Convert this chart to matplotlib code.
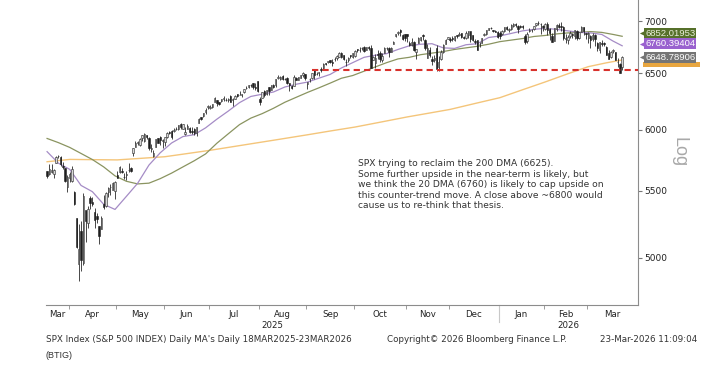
import numpy as np
import pandas as pd
import matplotlib
matplotlib.use("Agg")
import matplotlib.pyplot as plt
from matplotlib.patches import Rectangle
from matplotlib.ticker import FixedLocator, NullLocator, FuncFormatter

# daily candles, SPX, open / high / low / close
mar25 = [[5654, 5654, 5597, 5615], [5632, 5715, 5622, 5675], [5646, 5711, 5641, 5663], [5630, 5670, 5603, 5667],
         [5718, 5775, 5718, 5767], [5775, 5786, 5763, 5777], [5772, 5777, 5694, 5712], [5695, 5732, 5671, 5693],
         [5679, 5685, 5572, 5581], [5527, 5623, 5489, 5612]]
apr25 = [[5597, 5651, 5571, 5633], [5580, 5695, 5571, 5671], [5492, 5500, 5390, 5397], [5292, 5293, 5069, 5074],
         [4953, 5247, 4835, 5062], [5193, 5267, 4910, 4982], [4966, 5481, 4950, 5457], [5353, 5353, 5115, 5268],
         [5256, 5381, 5220, 5363], [5441, 5460, 5358, 5406], [5412, 5450, 5386, 5396], [5335, 5367, 5220, 5276],
         [5305, 5328, 5255, 5283], [5232, 5232, 5101, 5158], [5207, 5309, 5207, 5288], [5395, 5469, 5356, 5376],
         [5381, 5489, 5371, 5485], [5489, 5528, 5455, 5525], [5529, 5554, 5468, 5529], [5508, 5571, 5505, 5561],
         [5499, 5581, 5433, 5569]]
may25 = [[5625, 5659, 5597, 5604], [5645, 5700, 5637, 5687], [5655, 5683, 5644, 5650], [5609, 5641, 5589, 5607],
         [5626, 5655, 5584, 5631], [5663, 5720, 5650, 5664], [5679, 5691, 5646, 5660], [5807, 5845, 5776, 5844],
         [5854, 5906, 5853, 5886], [5887, 5906, 5869, 5892], [5869, 5925, 5859, 5917], [5929, 5958, 5907, 5958],
         [5903, 5968, 5895, 5964], [5955, 5956, 5917, 5941], [5928, 5939, 5830, 5845], [5840, 5878, 5811, 5842],
         [5781, 5829, 5767, 5802], [5855, 5922, 5854, 5922], [5925, 5929, 5886, 5889], [5939, 5944, 5872, 5912],
         [5903, 5922, 5844, 5912]]
jun25 = [[5897, 5937, 5862, 5936], [5939, 5981, 5930, 5970], [5978, 5990, 5966, 5971], [5985, 5999, 5921, 5939],
         [5987, 6017, 5978, 6000], [6005, 6022, 5994, 6006], [6009, 6043, 6001, 6038], [6049, 6059, 6003, 6022],
         [6009, 6045, 6003, 6045], [5962, 6026, 5952, 5977], [6005, 6051, 6005, 6033], [6012, 6023, 5974, 5983],
         [5986, 6019, 5966, 5981], [6004, 6018, 5952, 5967], [5970, 6026, 5943, 6025], [6061, 6101, 6059, 6092],
         [6105, 6108, 6079, 6092], [6114, 6146, 6106, 6141], [6151, 6187, 6133, 6173], [6193, 6215, 6177, 6205]]
jul25 = [[6187, 6210, 6178, 6198], [6192, 6227, 6188, 6227], [6244, 6284, 6241, 6279], [6260, 6262, 6202, 6230],
         [6239, 6242, 6216, 6226], [6245, 6269, 6237, 6263], [6270, 6290, 6249, 6280], [6256, 6275, 6245, 6260],
         [6255, 6272, 6237, 6269], [6296, 6302, 6242, 6244], [6256, 6275, 6202, 6264], [6264, 6304, 6264, 6297],
         [6308, 6315, 6286, 6297], [6305, 6336, 6303, 6306], [6306, 6310, 6281, 6309], [6326, 6360, 6317, 6359],
         [6368, 6381, 6360, 6363], [6371, 6390, 6364, 6389], [6397, 6401, 6375, 6390], [6409, 6410, 6360, 6371],
         [6379, 6410, 6347, 6362], [6427, 6428, 6331, 6339]]
aug25 = [[6271, 6288, 6213, 6238], [6272, 6330, 6272, 6330], [6336, 6344, 6289, 6299], [6311, 6352, 6304, 6345],
         [6374, 6379, 6301, 6340], [6352, 6395, 6350, 6389], [6390, 6401, 6364, 6374], [6391, 6446, 6377, 6446],
         [6460, 6481, 6448, 6466], [6446, 6474, 6442, 6469], [6479, 6481, 6441, 6450], [6446, 6459, 6436, 6449],
         [6456, 6466, 6404, 6412], [6410, 6414, 6343, 6396], [6386, 6394, 6361, 6370], [6386, 6482, 6381, 6467],
         [6458, 6466, 6438, 6439], [6442, 6469, 6440, 6466], [6458, 6488, 6453, 6481], [6487, 6508, 6466, 6502],
         [6492, 6495, 6440, 6460]]
sep25 = [[6401, 6416, 6361, 6416], [6445, 6453, 6416, 6448], [6456, 6503, 6444, 6502], [6530, 6533, 6444, 6482],
         [6498, 6511, 6484, 6495], [6506, 6514, 6480, 6512], [6537, 6555, 6514, 6532], [6546, 6592, 6545, 6587],
         [6592, 6601, 6578, 6584], [6602, 6616, 6593, 6615], [6624, 6627, 6597, 6607], [6609, 6638, 6565, 6600],
         [6633, 6657, 6613, 6631], [6642, 6672, 6629, 6664], [6657, 6697, 6654, 6693], [6695, 6697, 6643, 6656],
         [6668, 6671, 6623, 6638], [6609, 6633, 6569, 6605], [6620, 6650, 6603, 6644], [6669, 6674, 6640, 6661],
         [6654, 6688, 6644, 6688]]
oct25 = [[6665, 6718, 6656, 6711], [6732, 6733, 6699, 6715], [6722, 6750, 6705, 6716], [6740, 6749, 6721, 6740],
         [6751, 6754, 6699, 6714], [6720, 6753, 6717, 6753], [6752, 6756, 6720, 6735], [6740, 6764, 6550, 6553],
         [6624, 6667, 6624, 6655], [6597, 6684, 6553, 6644], [6681, 6724, 6631, 6671], [6692, 6712, 6610, 6630],
         [6620, 6687, 6602, 6664], [6694, 6744, 6688, 6735], [6737, 6749, 6716, 6736], [6741, 6752, 6653, 6699],
         [6703, 6747, 6700, 6739], [6780, 6807, 6780, 6792], [6850, 6878, 6846, 6875], [6885, 6899, 6867, 6891],
         [6910, 6920, 6855, 6890], [6865, 6870, 6815, 6822], [6870, 6871, 6807, 6840]]
nov25 = [[6875, 6877, 6800, 6852], [6789, 6807, 6762, 6771], [6765, 6832, 6755, 6796], [6801, 6803, 6711, 6720],
         [6700, 6730, 6631, 6728], [6790, 6841, 6785, 6832], [6816, 6849, 6810, 6846], [6866, 6870, 6813, 6851],
         [6819, 6828, 6720, 6737], [6646, 6775, 6646, 6734], [6724, 6749, 6657, 6672], [6637, 6660, 6581, 6617],
         [6627, 6676, 6606, 6642], [6741, 6771, 6522, 6538], [6555, 6664, 6521, 6603], [6634, 6716, 6627, 6705],
         [6703, 6777, 6687, 6766], [6781, 6822, 6781, 6813], [6822, 6849, 6822, 6849]]
dec25 = [[6830, 6843, 6800, 6813], [6830, 6852, 6810, 6829], [6815, 6855, 6808, 6850], [6866, 6867, 6835, 6857],
         [6866, 6895, 6858, 6870], [6880, 6886, 6835, 6846], [6842, 6856, 6830, 6840], [6840, 6900, 6830, 6887],
         [6860, 6905, 6835, 6901], [6900, 6905, 6800, 6827], [6860, 6865, 6805, 6816], [6810, 6830, 6775, 6800],
         [6815, 6820, 6720, 6721], [6775, 6800, 6745, 6775], [6790, 6840, 6785, 6834], [6860, 6880, 6850, 6878],
         [6870, 6912, 6865, 6910], [6912, 6937, 6910, 6932], [6935, 6945, 6925, 6930], [6910, 6915, 6890, 6905],
         [6900, 6910, 6890, 6896], [6895, 6900, 6840, 6845]]
jan26 = [[6880, 6900, 6830, 6858], [6870, 6910, 6860, 6902], [6905, 6945, 6895, 6944], [6940, 6955, 6915, 6921],
         [6915, 6930, 6890, 6921], [6925, 6970, 6918, 6966], [6950, 6985, 6940, 6977], [6975, 6986, 6940, 6963],
         [6955, 6960, 6880, 6926], [6950, 6965, 6930, 6944], [6955, 6965, 6925, 6940], [6850, 6870, 6775, 6797],
         [6805, 6890, 6790, 6875], [6900, 6935, 6890, 6913], [6910, 6925, 6895, 6916], [6920, 6955, 6915, 6950],
         [6960, 6985, 6955, 6979], [6985, 7002, 6960, 6978], [6975, 6980, 6870, 6969], [6950, 6965, 6905, 6939]]
feb26 = [[6920, 6980, 6910, 6976], [6970, 6990, 6860, 6917], [6920, 6930, 6820, 6883], [6850, 6880, 6800, 6798],
         [6810, 6935, 6805, 6932], [6920, 6970, 6905, 6964], [6965, 6985, 6935, 6942], [6950, 6990, 6900, 6941],
         [6940, 6955, 6820, 6833], [6830, 6870, 6790, 6836], [6820, 6860, 6775, 6843], [6850, 6900, 6840, 6881],
         [6870, 6885, 6835, 6861], [6850, 6915, 6830, 6909], [6900, 6910, 6820, 6837], [6840, 6895, 6830, 6890],
         [6895, 6950, 6890, 6946], [6940, 6945, 6860, 6908], [6880, 6885, 6830, 6878]]
mar26 = [[6840, 6890, 6790, 6881], [6850, 6860, 6740, 6816], [6830, 6880, 6810, 6869], [6860, 6870, 6760, 6830],
         [6790, 6800, 6710, 6740], [6720, 6800, 6690, 6795], [6790, 6820, 6760, 6781], [6785, 6800, 6755, 6775],
         [6750, 6760, 6670, 6672], [6690, 6720, 6630, 6632], [6650, 6710, 6640, 6699], [6710, 6730, 6690, 6716],
         [6700, 6705, 6620, 6625], [6610, 6640, 6560, 6606], [6590, 6600, 6500, 6506], [6560, 6660, 6530, 6649]]

# moving averages (weekly samples)
ma_dates = ["2025-03-18", "2025-03-25", "2025-04-01", "2025-04-08", "2025-04-15", "2025-04-23", "2025-04-30",
            "2025-05-07", "2025-05-14", "2025-05-21", "2025-05-29", "2025-06-05", "2025-06-12", "2025-06-20",
            "2025-06-27", "2025-07-07", "2025-07-14", "2025-07-21", "2025-07-28", "2025-08-04", "2025-08-11",
            "2025-08-18", "2025-08-25", "2025-09-02", "2025-09-09", "2025-09-16", "2025-09-23", "2025-09-30",
            "2025-10-07", "2025-10-14", "2025-10-21", "2025-10-28", "2025-11-04", "2025-11-11", "2025-11-18",
            "2025-11-25", "2025-12-03", "2025-12-10", "2025-12-17", "2025-12-24", "2026-01-02", "2026-01-09",
            "2026-01-16", "2026-01-26", "2026-02-02", "2026-02-09", "2026-02-17", "2026-02-24", "2026-03-03",
            "2026-03-10", "2026-03-17", "2026-03-23"]
dma20 = [5815, 5720, 5670, 5542, 5493, 5395, 5356, 5456, 5559, 5705, 5806, 5887, 5941, 5957, 6015, 6090, 6160,
         6235, 6290, 6310, 6330, 6375, 6400, 6420, 6455, 6490, 6550, 6600, 6650, 6670, 6685, 6725, 6760, 6775,
         6780, 6740, 6735, 6770, 6780, 6840, 6855, 6880, 6905, 6920, 6930, 6920, 6905, 6890, 6885, 6870, 6805, 6760]
dma50 = [5925, 5890, 5850, 5800, 5750, 5690, 5618, 5575, 5554, 5560, 5596, 5640, 5690, 5740, 5796, 5885, 5964,
         6043, 6099, 6138, 6185, 6238, 6282, 6326, 6367, 6410, 6455, 6480, 6520, 6560, 6600, 6635, 6650, 6675,
         6690, 6705, 6725, 6740, 6755, 6775, 6800, 6815, 6830, 6850, 6860, 6875, 6885, 6890, 6898, 6890, 6870, 6852]
dma200_dates = ["2025-03-18", "2025-04-01", "2025-04-15", "2025-05-01", "2025-05-14", "2025-06-02", "2025-06-12",
                "2025-07-01", "2025-07-14", "2025-08-01", "2025-08-11", "2025-09-02", "2025-09-16", "2025-10-01",
                "2025-10-17", "2025-11-03", "2025-11-14", "2025-12-01", "2025-12-17", "2026-01-02", "2026-01-16",
                "2026-02-02", "2026-02-17", "2026-03-02", "2026-03-12", "2026-03-23"]
dma200 = [5732, 5751, 5749, 5747, 5758, 5773, 5794, 5826, 5850, 5892, 5910, 5956, 5988, 6022, 6067, 6109, 6140,
          6175, 6232, 6279, 6350, 6421, 6496, 6562, 6598, 6625]

last_labels = ["6852.01953", "6760.39404", "6648.78906"]
support_level = 6535
support_from = "2025-09-04"
y_ticks = [5000, 5500, 6000, 6500, 7000]

note = ("SPX trying to reclaim the 200 DMA (6625).\n"
        "Some further upside in the near-term is likely, but\n"
        "we think the 20 DMA (6760) is likely to cap upside on\n"
        "this counter-trend move. A close above ~6800 would\n"
        "cause us to re-think that thesis.")

# trading calendar (x axis is trading days, no gaps)
holidays = ["2025-04-18", "2025-05-26", "2025-06-19", "2025-07-04", "2025-09-01", "2025-11-27",
            "2025-12-25", "2026-01-01", "2026-01-19", "2026-02-16"]
bday = pd.offsets.CustomBusinessDay(holidays=holidays)
dates = pd.date_range("2025-03-18", "2026-03-23", freq=bday)
ohlc = np.array(mar25 + apr25 + may25 + jun25 + jul25 + aug25 + sep25 + oct25 + nov25 + dec25
                + jan26 + feb26 + mar26, dtype=float)
n = min(len(dates), len(ohlc))
dates = dates[:n]
ohlc = ohlc[:n]
pos = {d: i for i, d in enumerate(dates)}
xi = np.arange(n)


def to_idx(ds):
    return [pos[pd.Timestamp(d)] for d in ds]


o, h, l, c = ohlc.T
up = c >= o

fig = plt.figure(figsize=(7.18, 3.69), dpi=100)
ax = fig.add_axes([0.064, 0.1734, 0.8246, 0.8266])

xmax = 261
ax.set_xlim(-0.5, xmax)
ax.set_yscale("log")
ax.set_ylim(4675, 7215)

# moving averages
ax.plot(to_idx(dma200_dates), dma200, color="#f4c57a", lw=1.0, zorder=2)
ax.plot(to_idx(ma_dates), dma50, color="#8a9460", lw=0.9, zorder=2)
ax.plot(to_idx(ma_dates), dma20, color="#a58cc6", lw=0.9, zorder=2)

# support line
ax.plot([pos[pd.Timestamp(support_from)], xmax], [support_level, support_level],
        color="#d8312c", lw=1.5, dashes=(3, 2), zorder=4)

# candles
ax.vlines(xi, l, h, color="#2a2a2a", lw=0.6, zorder=3)
body_lo = np.minimum(o, c)
body_h = np.maximum(np.abs(c - o), 1.5)
ax.bar(xi[up], body_h[up], bottom=body_lo[up], width=0.62, color="#d8d8d8",
       edgecolor="#2a2a2a", linewidth=0.4, zorder=3.5)
ax.bar(xi[~up], body_h[~up], bottom=body_lo[~up], width=0.62, color="#1e1e1e",
       edgecolor="#1e1e1e", linewidth=0.4, zorder=3.5)

# axes styling
for s in ["top", "left"]:
    ax.spines[s].set_visible(False)
for s in ["bottom", "right"]:
    ax.spines[s].set_color("#8c8c8c")
    ax.spines[s].set_linewidth(0.8)

ax.yaxis.tick_right()
ax.yaxis.set_major_locator(FixedLocator(y_ticks))
ax.yaxis.set_minor_locator(NullLocator())
ax.yaxis.set_major_formatter(FuncFormatter(lambda v, p: f"{v:.0f}"))
ax.tick_params(axis="y", which="major", length=3, width=0.8, color="#777777", pad=1.5,
               labelsize=6.5, labelcolor="#222222")
ax.text(1.07, 0.50, "Log", transform=ax.transAxes, rotation=270, ha="center", va="center",
        fontsize=13, color="#a8a8a8", family="Liberation Sans")

# month axis
month_start = [i for i in range(n) if i == 0 or dates[i].month != dates[i - 1].month]
edges = [m - 0.5 for m in month_start] + [xmax]
ax.set_xticks(edges[1:-1])
ax.set_xticklabels([])
ax.tick_params(axis="x", length=3, width=0.6, color="#8c8c8c")
xt = ax.get_xaxis_transform()
for k, m in enumerate(month_start):
    ax.text((edges[k] + edges[k + 1]) / 2, -0.03, dates[m].strftime("%b"), transform=xt,
            ha="center", va="center", fontsize=6.2, color="#222222", family="DejaVu Sans")
year_split = [m for m in month_start if dates[m].month == 1][0] - 0.5
ax.plot([year_split, year_split], [0, -0.056], transform=xt, color="#c8c8c8", lw=0.8, clip_on=False)
ax.text((-0.5 + year_split) / 2, -0.066, "2025", transform=xt, ha="center", va="center",
        fontsize=6.2, color="#222222")
ax.text((year_split + xmax) / 2, -0.066, "2026", transform=xt, ha="center", va="center",
        fontsize=6.2, color="#222222")

# last value tags (orange 200 DMA tag sits mostly hidden under the grey one)
yt = ax.get_yaxis_transform()
ax.add_patch(Rectangle((1.008, 6560), 0.097, 45, transform=yt, fc="#e8a640", ec="none",
                       clip_on=False, zorder=4.5))
tags = [(6882, last_labels[0], "#56702a", "#e8eed8"),
        (6778, last_labels[1], "#9a62cf", "#ffffff"),
        (6652, last_labels[2], "#757575", "#ffffff")]
for yv, txt, bg, fg in tags:
    ax.text(1.012, yv, txt, transform=yt, ha="left", va="center",
            fontsize=6.8, color=fg, family="Liberation Sans",
            bbox=dict(boxstyle="square,pad=0.1", fc=bg, ec="none"), clip_on=False, zorder=5)
    ax.scatter([1.006], [yv], marker="<", s=14, color=bg, transform=yt, clip_on=False,
               linewidths=0, zorder=5)

# annotation
ax.text(0.527, 0.478, note, transform=ax.transAxes, ha="left", va="top", fontsize=6.6,
        color="#333333", linespacing=1.22, family="DejaVu Sans")

# footer
fig.text(46 / 718, 1 - 339 / 369, "SPX Index (S&P 500 INDEX) Daily MA's Daily 18MAR2025-23MAR2026",
         ha="left", va="center", fontsize=6.35, color="#333333")
fig.text(387 / 718, 1 - 339 / 369, "Copyright\u00a9 2026 Bloomberg Finance L.P.",
         ha="left", va="center", fontsize=6.3, color="#333333")
fig.text(697 / 718, 1 - 339 / 369, "23-Mar-2026 11:09:04",
         ha="right", va="center", fontsize=6.3, color="#333333")
fig.text(46 / 718, 1 - 356 / 369, "(BTIG)", ha="left", va="center", fontsize=6.5,
         color="#333333", family="Liberation Sans")

fig.savefig("out.png", dpi=100, facecolor="white")
